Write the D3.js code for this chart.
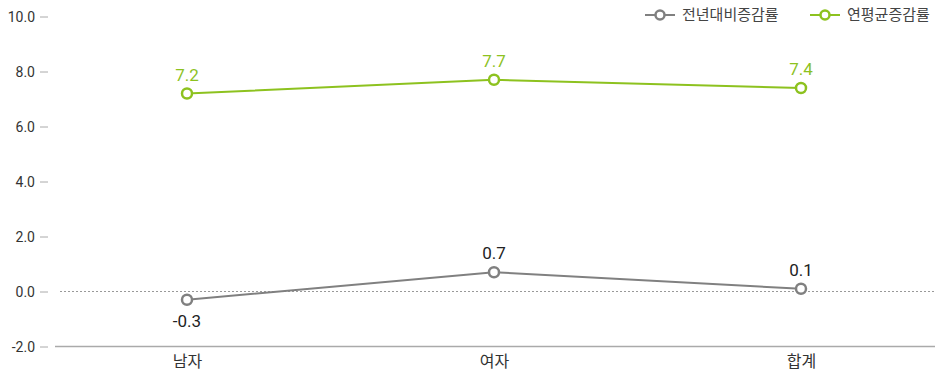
<!DOCTYPE html>
<html>
<head>
<meta charset="utf-8">
<script src="https://cdn.jsdelivr.net/npm/d3@7"></script>
<style>
  html, body { margin: 0; padding: 0; background: #fff; }
  svg { display: block; font-family: Roboto, "Noto Sans CJK KR", sans-serif; }
</style>
</head>
<body>
<svg id="chart" width="937" height="377"></svg>
<script>
const categories = ["남자", "여자", "합계"];
const seriesNames = ["전년대비증감률", "연평균증감률"];
const yoyValues = [-0.3, 0.7, 0.1];
const annualValues = [7.2, 7.7, 7.4];
const yTicks = [-2, 0, 2, 4, 6, 8, 10];

// plain hyphen for negative numbers
d3.formatDefaultLocale({ decimal: ".", thousands: ",", grouping: [3], currency: ["", ""], minus: "-" });
const fmt = d3.format(".1f");

const series = [
  { name: seriesNames[0], values: yoyValues, color: "#808080", labelColor: "#222", below: true },
  { name: seriesNames[1], values: annualValues, color: "#8dc21f", labelColor: "#8dc21f", below: false }
];

const svg = d3.select("#chart");
const left = 55, right = 935;

const x = d3.scalePoint().domain(categories).range([187, 801]);
const y = d3.scaleLinear().domain([-2, 10]).range([346.5, 16.5]);

// y axis: labels with short tick dashes, no domain line
const yAxis = svg.append("g").attr("transform", "translate(48,0)")
  .call(d3.axisLeft(y).tickValues(yTicks).tickFormat(fmt).tickSize(8).tickPadding(5));
yAxis.select(".domain").remove();
yAxis.selectAll(".tick line").attr("stroke", "#aaa");
yAxis.selectAll(".tick text").attr("fill", "#333").style("font-size", "14px")
  .style("font-family", "Roboto, sans-serif").attr("dy", "0.35em");

// baseline at the bottom of the plot
svg.append("line").attr("x1", left).attr("x2", right)
  .attr("y1", y(-2)).attr("y2", y(-2)).attr("stroke", "#aaa").attr("stroke-width", 1.5);

// dotted zero line
svg.append("line").attr("x1", 60).attr("x2", right)
  .attr("y1", y(0)).attr("y2", y(0)).attr("stroke", "#999").attr("stroke-width", 1)
  .attr("stroke-dasharray", "2,2");

// category labels
const xAxis = svg.append("g").attr("transform", `translate(0,${y(-2)})`)
  .call(d3.axisBottom(x).tickSize(0).tickPadding(9));
xAxis.select(".domain").remove();
xAxis.selectAll(".tick text").attr("fill", "#333").style("font-size", "16px")
  .style("font-family", "'Noto Sans CJK KR', sans-serif");

const line = d3.line().x((d, i) => x(categories[i])).y(d => y(d));

series.forEach(s => {
  const g = svg.append("g");
  g.append("path").datum(s.values).attr("d", line)
    .attr("fill", "none").attr("stroke", s.color).attr("stroke-width", 2);
  g.selectAll("circle").data(s.values).join("circle")
    .attr("cx", (d, i) => x(categories[i])).attr("cy", d => y(d)).attr("r", 5)
    .attr("fill", "#fff").attr("stroke", s.color).attr("stroke-width", 2.5);
  g.selectAll("text").data(s.values).join("text")
    .attr("x", (d, i) => x(categories[i]))
    .attr("y", d => (s.below && d < 0) ? y(d) + 27 : y(d) - 13)
    .attr("text-anchor", "middle").attr("fill", s.labelColor)
    .style("font-size", "17px").style("font-family", "Roboto, sans-serif")
    .text(d => fmt(d));
});

// legend
const legendPos = [645, 810];
series.forEach((s, i) => {
  const lg = svg.append("g").attr("transform", `translate(${legendPos[i]},15)`);
  lg.append("line").attr("x1", 0).attr("x2", 30).attr("y1", 0).attr("y2", 0)
    .attr("stroke", s.color).attr("stroke-width", 2);
  lg.append("circle").attr("cx", 15).attr("cy", 0).attr("r", 4.5)
    .attr("fill", "#fff").attr("stroke", s.color).attr("stroke-width", 2.5);
  lg.append("text").attr("x", 37).attr("y", 0).attr("dy", "0.35em")
    .attr("fill", "#444").style("font-size", "15px")
    .style("font-family", "'Noto Sans CJK KR', sans-serif").text(s.name);
});
</script>
</body>
</html>
